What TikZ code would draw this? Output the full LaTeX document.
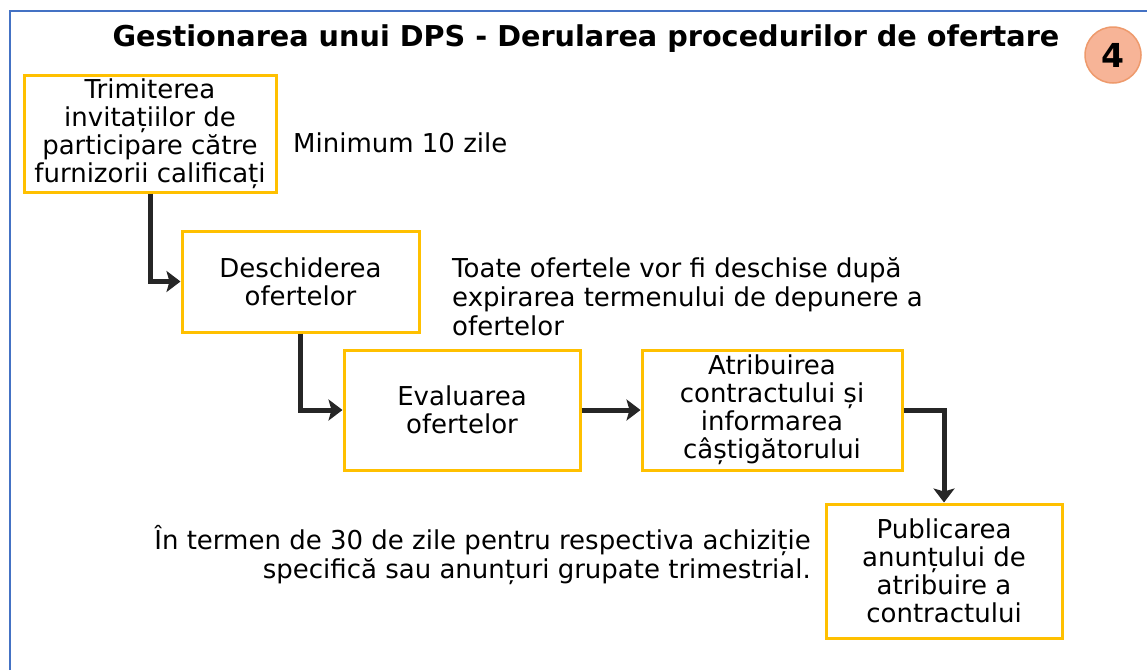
\documentclass[tikz,border=0pt]{standalone}
\usepackage{fontspec}
\setmainfont{DejaVu Sans}
\usetikzlibrary{arrows.meta,positioning}
\definecolor{framblue}{HTML}{4472C4}
\definecolor{boxgold}{HTML}{FFC000}
\definecolor{numfill}{HTML}{F7B497}
\definecolor{numedge}{HTML}{EE9A6C}
\definecolor{arrgray}{HTML}{262626}

\begin{document}
\begin{tikzpicture}[x=1pt,y=-1pt,
   stepbox/.style={draw=boxgold,line width=3pt,align=center,inner sep=2pt,
      font=\fontsize{26}{28}\selectfont},
   note/.style={inner sep=0pt,font=\fontsize{26}{29}\selectfont},
   flow/.style={draw=arrgray,line width=5pt,-{Stealth[length=14pt,width=21pt,inset=3pt]}}]
\useasboundingbox (0,0) rectangle (1147,670);
\draw[framblue,line width=2.5pt] (10,670) -- (10,11) -- (1147,11);
\node[font=\bfseries\fontsize{28.7}{30}\selectfont] (title) at (586,39)
  {Gestionarea unui DPS - Derularea procedurilor de ofertare};
\node[circle,draw=numedge,fill=numfill,line width=1.5pt,minimum size=56pt,inner sep=0pt,
  font=\bfseries\fontsize{33}{34}\selectfont] (nr) at (1113,55) {4};
\node[stepbox,minimum width=252pt,minimum height=117pt] (invit) at (150,133.5)
  {Trimiterea\\invitațiilor de\\participare către\\furnizorii calificați};
\node[stepbox,minimum width=237pt,minimum height=101pt] (desch) at (300.5,281.5)
  {Deschiderea\\ofertelor};
\node[stepbox,minimum width=236pt,minimum height=120pt] (eval) at (462,410)
  {Evaluarea\\ofertelor};
\node[stepbox,minimum width=260pt,minimum height=120pt] (atrib) at (772,410)
  {Atribuirea\\contractului și\\informarea\\câștigătorului};
\node[stepbox,minimum width=236pt,minimum height=134pt] (publ) at (944,571)
  {Publicarea\\anunțului de\\atribuire a\\contractului};
\node[note,anchor=west] (termen) at (293,143) {Minimum 10 zile};
\node[note,anchor=west,align=left] (toate) at (452,297)
  {Toate ofertele vor fi deschise după\\expirarea termenului de depunere a\\ofertelor};
\node[note,anchor=east,align=right] (zile) at (811,555)
  {În termen de 30 de zile pentru respectiva achiziție\\specifică sau anunțuri grupate trimestrial.};
\draw[flow] (invit.south) |- (desch.west);
\draw[flow] (desch.south) |- (eval.west);
\draw[flow] (eval.east) -- (atrib.west);
\draw[flow] (atrib.east) -| (publ.north);
\end{tikzpicture}
\end{document}
